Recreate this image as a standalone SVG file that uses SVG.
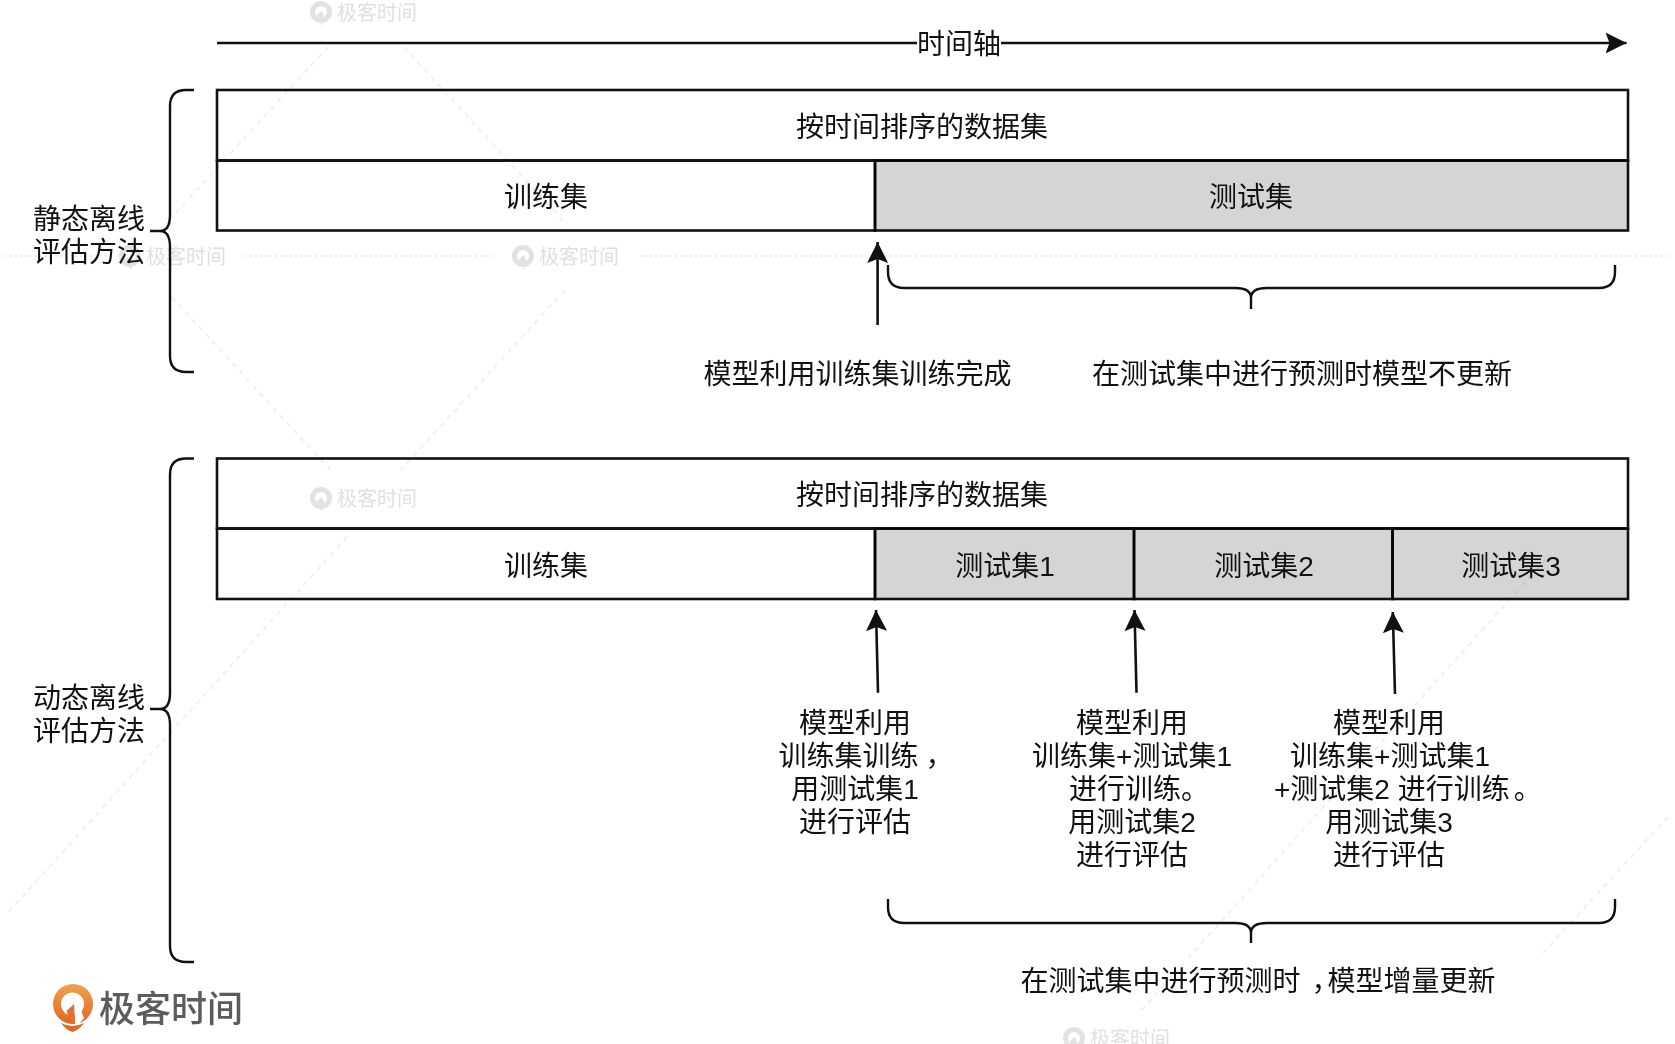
<svg xmlns="http://www.w3.org/2000/svg" xmlns:xlink="http://www.w3.org/1999/xlink" width="1675" height="1044" viewBox="0 0 1675 1044">
<style>
text{font-family:"Liberation Sans","Noto Sans CJK SC",sans-serif;font-size:28px;fill:#111;text-anchor:middle;dominant-baseline:central}
.box{fill:none;stroke:#111;stroke-width:2.6}
.gray{fill:#d5d5d5;stroke:#111;stroke-width:2.6;mix-blend-mode:multiply}
.line{fill:none;stroke:#111;stroke-width:2.6}
.brace{fill:none;stroke:#111;stroke-width:2.4}
.wm{font-size:20px;fill:#e0e0e0;text-anchor:start}
.wl{fill:none;stroke:#ececec;stroke-width:1.5;stroke-dasharray:5 5}
.wd{fill:none;stroke:#eaeaea;stroke-width:2;stroke-dasharray:2 3}
</style>
<defs>
<marker id="ah" markerUnits="userSpaceOnUse" markerWidth="24" markerHeight="24" refX="21" refY="11" orient="auto"><path d="M0 0.500L21 11L0 21.500L4 11Z" fill="#111"/></marker>
<linearGradient id="og" x1="0" y1="0" x2="0" y2="1"><stop offset="0" stop-color="#f0a24a"/><stop offset="1" stop-color="#e0662a"/></linearGradient>
<g id="wmark"><circle r="11" fill="#e2e2e2"/><circle r="6" fill="#fff"/><path d="M1 -1L-4 3L-3 7L1 14L3 4Z" fill="#e2e2e2"/><text class="wm" x="16" y="1">极客时间</text></g>
</defs>
<rect width="1675" height="1044" fill="#fff"/>
<g id="watermark">
<path class="wl" d="M328 47L172 217M404 47L565 223M565 290L400 471M347 537L5 916M172 297L333 473M1545 560L1140 1012M1668 817L1543 953"/>
<path class="wd" d="M5 256H110M245 256H491M640 256H1670"/>
<use xlink:href="#wmark" href="#wmark" x="321" y="12"/>
<use xlink:href="#wmark" href="#wmark" x="130" y="256"/>
<use xlink:href="#wmark" href="#wmark" x="523" y="256"/>
<use xlink:href="#wmark" href="#wmark" x="321" y="498"/>
<use xlink:href="#wmark" href="#wmark" x="1074" y="1038"/>
</g>
<g id="logo">
<circle cx="73" cy="1004" r="20" fill="url(#og)"/>
<circle cx="72.500" cy="1004" r="11.500" fill="#fff"/>
<path d="M75 1008L80 1008L84 1018L78 1025L75 1025Z" fill="#fff"/>
<path d="M74 1004L66.500 1011L69 1017L72 1022L75 1021Z" fill="#e2702e"/>
<path d="M61 1023Q72 1029 84 1023Q79 1030 72.500 1032Q66 1030 61 1023Z" fill="#e0662a"/>
<text x="171" y="1009" style="font-size:36px;fill:#5c5c5c;font-weight:500">极客时间</text>
</g>
<g id="connectors">
<path class="line" d="M217 43H917M1001 43H1626.500" marker-end="url(#ah)"/>
<path class="line" d="M877.600 325V242" marker-end="url(#ah)"/>
<path class="line" d="M878 692.700L876 610" marker-end="url(#ah)"/>
<path class="line" d="M1136.500 692.700L1134.500 610" marker-end="url(#ah)"/>
<path class="line" d="M1395 694L1392.800 612" marker-end="url(#ah)"/>
<path class="brace" d="M194 90H186Q170 90 170 106V215Q170 231 160 231H150M160 231Q170 231 170 247V356Q170 372 186 372H194"/>
<path class="brace" d="M194 458.500H186Q170 458.500 170 474.500V693Q170 709 160 709H150M160 709Q170 709 170 725V946Q170 962 186 962H194"/>
<path class="brace" d="M888 265V272Q888 288 904 288H1235Q1251 288 1251 298V309M1251 298Q1251 288 1267 288H1599Q1615 288 1615 272V265"/>
<path class="brace" d="M888 899V907Q888 923 904 923H1235Q1251 923 1251 933V943M1251 933Q1251 923 1267 923H1599Q1615 923 1615 907V899"/>
</g>
<g id="axis-label"><text x="959" y="44">时间轴</text></g>
<g id="static-label"><text x="89" y="219">静态离线</text><text x="89" y="252">评估方法</text></g>
<g id="static-dataset"><rect class="box" x="217" y="90" width="1411" height="70.500"/><text x="922" y="127">按时间排序的数据集</text></g>
<g id="static-train"><rect class="box" x="217" y="160.500" width="658" height="70"/><text x="546" y="197">训练集</text></g>
<g id="static-test"><rect class="gray" x="875" y="160.500" width="753" height="70"/><text x="1251" y="197">测试集</text></g>
<g id="static-note-1"><text x="857.500" y="374">模型利用训练集训练完成</text></g>
<g id="static-note-2"><text x="1302" y="374">在测试集中进行预测时模型不更新</text></g>
<g id="dynamic-label"><text x="89" y="698">动态离线</text><text x="89" y="731">评估方法</text></g>
<g id="dynamic-dataset"><rect class="box" x="217" y="458.500" width="1411" height="70"/><text x="922" y="495.500">按时间排序的数据集</text></g>
<g id="dynamic-train"><rect class="box" x="217" y="528.500" width="658" height="70.500"/><text x="546" y="566">训练集</text></g>
<g id="dynamic-test-1"><rect class="gray" x="875" y="528.500" width="259" height="70.500"/><text x="1005" y="566">测试集1</text></g>
<g id="dynamic-test-2"><rect class="gray" x="1134" y="528.500" width="258.500" height="70.500"/><text x="1264" y="566">测试集2</text></g>
<g id="dynamic-test-3"><rect class="gray" x="1392.500" y="528.500" width="235.500" height="70.500"/><text x="1511" y="566">测试集3</text></g>
<g id="dynamic-note-1"><text x="866" y="756">训练集训练<tspan dx="7">，</tspan></text><text x="855" y="723">模型利用</text><text x="855" y="789">用测试集1</text><text x="855" y="822">进行评估</text></g>
<g id="dynamic-note-2"><text x="1132" y="723">模型利用</text><text x="1132" y="756">训练集+测试集1</text><text x="1139" y="789">进行训练。</text><text x="1132" y="822">用测试集2</text><text x="1132" y="855">进行评估</text></g>
<g id="dynamic-note-3"><text x="1389" y="723">模型利用</text><text x="1390" y="756">训练集+测试集1</text><text x="1274" y="789" style="text-anchor:start">+测试集2 进行训练<tspan dx="4">。</tspan></text><text x="1389" y="822">用测试集3</text><text x="1389" y="855">进行评估</text></g>
<g id="dynamic-note-4"><text x="1258" y="981">在测试集中进行预测时<tspan dx="11" style="letter-spacing:-12px">，</tspan>模型增量更新</text></g>
</svg>
